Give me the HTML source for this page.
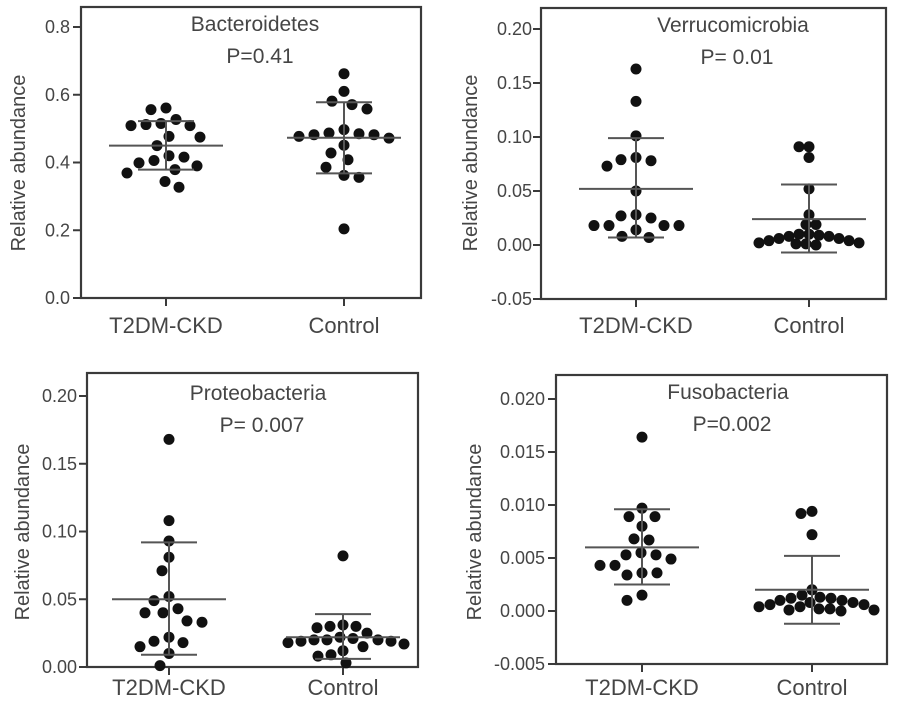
<!DOCTYPE html>
<html><head><meta charset="utf-8"><style>
html,body{margin:0;padding:0;background:#fff}
svg{display:block}
text{font-family:"Liberation Sans",Arial,sans-serif;fill:#454545}
</style></head><body>
<svg id="fig" width="898" height="702" viewBox="0 0 898 702" xmlns="http://www.w3.org/2000/svg"></svg>
<script>
const categories = ["T2DM-CKD", "Control"];
const titles = ["Bacteroidetes", "Verrucomicrobia", "Proteobacteria", "Fusobacteria"];
const pLabels = ["P=0.41", "P= 0.01", "P= 0.007", "P=0.002"];

const bactT2 = [0.515,0.509,0.509,0.512,0.527,0.556,0.561,0.477,0.475,0.45,0.42,0.406,0.399,0.416,0.39,0.369,0.379,0.344,0.327];
const bactCtl = [0.662,0.610,0.581,0.571,0.558,0.482,0.477,0.487,0.472,0.482,0.485,0.497,0.451,0.428,0.408,0.386,0.362,0.356,0.204];
const bactMean = [0.450, 0.473];
const bactSdHi = [0.522, 0.578];
const bactSdLo = [0.379, 0.368];
const bactTicks = ["0.0","0.2","0.4","0.6","0.8"];

const verrT2 = [0.163,0.133,0.101,0.081,0.078,0.073,0.079,0.050,0.027,0.028,0.025,0.018,0.018,0.014,0.018,0.018,0.007,0.008];
const verrCtl = [0.091,0.091,0.081,0.052,0.028,0.019,0.019,0.010,0.009,0.008,0.006,0.004,0.002,0.001,0.000,0.001,0.002,0.004,0.006,0.008,0.010];
const verrMean = [0.052, 0.024];
const verrSdHi = [0.099, 0.056];
const verrSdLo = [0.007, -0.007];
const verrTicks = ["-0.05","0.00","0.05","0.10","0.15","0.20"];

const protT2 = [0.168,0.108,0.093,0.081,0.071,0.052,0.049,0.043,0.040,0.040,0.033,0.034,0.022,0.018,0.019,0.015,0.010,0.001];
const protCtl = [0.082,0.031,0.030,0.029,0.030,0.025,0.022,0.021,0.020,0.020,0.020,0.019,0.019,0.018,0.017,0.015,0.012,0.009,0.008,0.003];
const protMean = [0.050, 0.022];
const protSdHi = [0.092, 0.039];
const protSdLo = [0.009, 0.006];
const protTicks = ["0.00","0.05","0.10","0.15","0.20"];

const fusoT2 = [0.0164,0.0097,0.0089,0.0089,0.0080,0.0068,0.0067,0.0055,0.0053,0.0053,0.0049,0.0043,0.0043,0.0036,0.0034,0.0036,0.0015,0.0010];
const fusoCtl = [0.0094,0.0092,0.0072,0.0020,0.0015,0.0013,0.0012,0.0010,0.0008,0.0006,0.0004,0.0002,0.0001,0.0000,0.0001,0.0002,0.0004,0.0006,0.0008,0.0010,0.0012];
const fusoMean = [0.0060, 0.0020];
const fusoSdHi = [0.0096, 0.0052];
const fusoSdLo = [0.0025, -0.0012];
const fusoTicks = ["-0.005","0.000","0.005","0.010","0.015","0.020"];

const NS = "http://www.w3.org/2000/svg";
const svg = document.getElementById("fig");
function mk(tag, attrs, parent){
  const e = document.createElementNS(NS, tag);
  for (const k in attrs) e.setAttribute(k, attrs[k]);
  (parent||svg).appendChild(e);
  return e;
}

const panels = [
  {L:81,R:421,T:7,B:298, y0px:298, y1px:27, v1:0.8, cx:[166,344], tickR:70, ytx:18, yty:163, ttlY:31, pY:63, ttlX:255, pX:260,
   data:[bactT2,bactCtl], mean:bactMean, hi:bactSdHi, lo:bactSdLo, ticks:bactTicks, catY:333},
  {L:541,R:886,T:8,B:299, y0px:245, y1px:29, v1:0.20, cx:[636,809], tickR:532, ytx:470, yty:163, ttlY:32, pY:64, ttlX:733, pX:737,
   data:[verrT2,verrCtl], mean:verrMean, hi:verrSdHi, lo:verrSdLo, ticks:verrTicks, catY:333},
  {L:87,R:418,T:373,B:667, y0px:667, y1px:396, v1:0.20, cx:[169,343], tickR:77, ytx:22, yty:532, ttlY:400, pY:432, ttlX:258, pX:262,
   data:[protT2,protCtl], mean:protMean, hi:protSdHi, lo:protSdLo, ticks:protTicks, catY:695},
  {L:556,R:887,T:375,B:664, y0px:611, y1px:399, v1:0.020, cx:[642,812], tickR:545, ytx:474, yty:532, ttlY:399, pY:431, ttlX:728, pX:732,
   data:[fusoT2,fusoCtl], mean:fusoMean, hi:fusoSdHi, lo:fusoSdLo, ticks:fusoTicks, catY:695}
];

const R = 5.5;
function swarm(ys, gap){
  const placed = [];
  const offs = new Array(ys.length).fill(0);
  const order = ys.map((v,i)=>i).sort((a,b)=>ys[a]-ys[b]);
  order.forEach(i => {
    const y = ys[i];
    let best = 0;
    for (let k=0;k<400;k++){
      const off = (k%2===0?1:-1)*Math.ceil(k/2)*1.0;
      if (placed.every(q => Math.hypot(q.x-off, q.y-y) >= gap)) { best = off; break; }
    }
    placed.push({x:best, y:y});
    offs[i] = best;
  });
  return offs;
}

panels.forEach((p, pi) => {
  const g = mk("g", {});
  
  
  const yScale = v => p.y0px + (p.y1px - p.y0px) * (v / p.v1);

  const frame = mk("rect", {x:p.L, y:p.T, width:p.R-p.L, height:p.B-p.T, fill:"none", stroke:"#3a3a3a", "stroke-width":2.2}, g);
  
  

  p.ticks.forEach(t => {
    const y = yScale(parseFloat(t));
    const tk = mk("line", {x1:p.L-8, x2:p.L, y1:y, y2:y, stroke:"#3a3a3a", "stroke-width":2}, g);
    
    
    const tl = mk("text", {x:p.tickR, y:y+6, "text-anchor":"end", "font-size":18}, g);
    tl.textContent = t;
    
    
  });

  const yt = mk("text", {x:p.ytx, y:p.yty, "text-anchor":"middle", "font-size":20, transform:`rotate(-90 ${p.ytx} ${p.yty})`, dy:7}, g);
  yt.textContent = "Relative abundance";
  
  

  const tt = mk("text", {x:p.ttlX, y:p.ttlY, "text-anchor":"middle", "font-size":21}, g);
  tt.textContent = titles[pi];
  
  
  const pt = mk("text", {x:p.pX, y:p.pY, "text-anchor":"middle", "font-size":21}, g);
  pt.textContent = pLabels[pi];
  
  

  categories.forEach((c, ci) => {
    const cx = p.cx[ci];
    const xt = mk("line", {x1:cx, x2:cx, y1:p.B, y2:p.B+8, stroke:"#3a3a3a", "stroke-width":2}, g);
    
    
    const cl = mk("text", {x:cx, y:p.catY, "text-anchor":"middle", "font-size":22}, g);
    cl.textContent = c;
    
    

    const vals = p.data[ci];
    const ys = vals.map(yScale);
    let gap = 15, offs = swarm(ys, gap);
    while (Math.max(...offs.map(Math.abs)) > 62 && gap > 8) { gap -= 0.5; offs = swarm(ys, gap); }
    vals.forEach((v, i) => {
      const d = mk("circle", {cx:cx+offs[i], cy:ys[i], r:R, fill:"#111"}, g);
      
      
    });

    const ym = yScale(p.mean[ci]), yh = yScale(p.hi[ci]), yl = yScale(p.lo[ci]);
    const ml = mk("line", {x1:cx-57, x2:cx+57, y1:ym, y2:ym, stroke:"#555", "stroke-width":2}, g);
    
    
    const vl = mk("line", {x1:cx, x2:cx, y1:yh, y2:yl, stroke:"#555", "stroke-width":2}, g);
    
    
    [yh, yl].forEach(yy => {
      const cap = mk("line", {x1:cx-28, x2:cx+28, y1:yy, y2:yy, stroke:"#555", "stroke-width":2}, g);
      
      
    });
  });
});
</script>
</body></html>
